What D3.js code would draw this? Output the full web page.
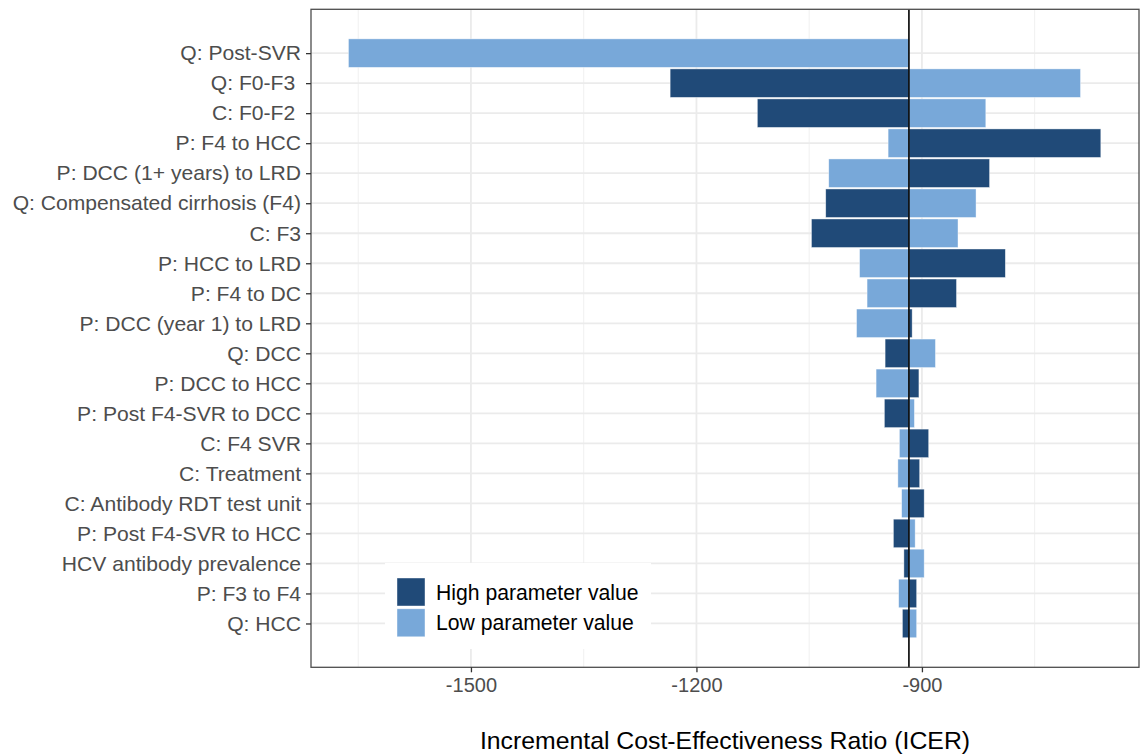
<!DOCTYPE html>
<html>
<head>
<meta charset="utf-8">
<script src="https://cdn.jsdelivr.net/npm/d3@7"></script>
<style>
  body { margin: 0; background: #fff; }
  svg text { font-family: "Liberation Sans", Arial, Helvetica, sans-serif; white-space: pre; }
</style>
</head>
<body>
<div id="chart"></div>
<script>
// parameters, top to bottom
const params = [
  "Q: Post-SVR", "Q: F0-F3 ", "C: F0-F2 ", "P: F4 to HCC",
  "P: DCC (1+ years) to LRD", "Q: Compensated cirrhosis (F4)", "C: F3",
  "P: HCC to LRD", "P: F4 to DC", "P: DCC (year 1) to LRD", "Q: DCC",
  "P: DCC to HCC", "P: Post F4-SVR to DCC", "C: F4 SVR", "C: Treatment",
  "C: Antibody RDT test unit", "P: Post F4-SVR to HCC",
  "HCV antibody prevalence", "P: F3 to F4", "Q: HCC"
];

// ICER at the low and high parameter value
const lowValues = [-1663, -689, -815, -945, -1024, -828, -852, -983, -973, -987,
  -882, -961, -910, -930, -932, -927, -909, -897, -931, -907];
const highValues = [-917, -1235, -1119, -662, -810, -1028, -1047, -789, -854, -913,
  -949, -904, -950, -891, -903, -897, -938, -924, -907, -926];

const baseIcer = -917.3;

const majorTicks = [-1500, -1200, -900];
const minorTicks = [-1650, -1350, -1050, -750];

const seriesNames = ["High parameter value", "Low parameter value"];
const seriesColors = ["#204A78", "#78A8D9"];

const width = 1146;
const height = 756;
const panel = { left: 311, right: 1139, top: 9.3, bottom: 667.3 };

const svg = d3.select("#chart")
  .append("svg")
  .attr("width", width)
  .attr("height", height);

const xScale = d3.scaleLinear()
  .domain([-1712.8, -611.2])
  .range([panel.left, panel.right]);

const yScale = d3.scalePoint()
  .domain(params)
  .range([panel.top, panel.bottom])
  .padding(1.46);

const step = yScale.step();
const barH = step * 0.95;

// grid
const grid = svg.append("g");
grid.selectAll(".minor")
  .data(minorTicks)
  .enter()
  .append("line")
  .attr("x1", (d) => xScale(d)).attr("x2", (d) => xScale(d))
  .attr("y1", panel.top).attr("y2", panel.bottom)
  .attr("stroke", "#f0f0f0").attr("stroke-width", 1);
grid.selectAll(".majorx")
  .data(majorTicks)
  .enter()
  .append("line")
  .attr("x1", (d) => xScale(d)).attr("x2", (d) => xScale(d))
  .attr("y1", panel.top).attr("y2", panel.bottom)
  .attr("stroke", "#ebebeb").attr("stroke-width", 1.8);
grid.selectAll(".majory")
  .data(params)
  .enter()
  .append("line")
  .attr("x1", panel.left).attr("x2", panel.right)
  .attr("y1", (d) => yScale(d)).attr("y2", (d) => yScale(d))
  .attr("stroke", "#ebebeb").attr("stroke-width", 1.8);

// bars
const rows = params.map((p, i) => ({ p, low: lowValues[i], high: highValues[i] }));
const bars = [];
rows.forEach((r) => {
  bars.push({ p: r.p, v: r.high, c: seriesColors[0] });
  bars.push({ p: r.p, v: r.low, c: seriesColors[1] });
});

svg.append("g")
  .selectAll(".bar")
  .data(bars)
  .enter()
  .append("rect")
  .attr("class", "bar")
  .attr("x", (d) => Math.min(xScale(d.v), xScale(baseIcer)))
  .attr("width", (d) => Math.abs(xScale(d.v) - xScale(baseIcer)))
  .attr("y", (d) => yScale(d.p) - barH / 2)
  .attr("height", barH)
  .attr("fill", (d) => d.c)
  .attr("stroke", "#ffffff")
  .attr("stroke-opacity", 0.6)
  .attr("stroke-width", 0.7);

// base case line
svg.append("line")
  .attr("x1", xScale(baseIcer)).attr("x2", xScale(baseIcer))
  .attr("y1", panel.top).attr("y2", panel.bottom)
  .attr("stroke", "#000").attr("stroke-width", 1.6);

// legend
const legend = svg.append("g").attr("transform", "translate(385,563)");
legend.append("rect")
  .attr("width", 266).attr("height", 86)
  .attr("fill", "#fff");
legend.selectAll(".key")
  .data(seriesNames)
  .enter()
  .append("rect")
  .attr("x", 12)
  .attr("y", (d, i) => 15 + i * 30.8)
  .attr("width", 28)
  .attr("height", 28)
  .attr("fill", (d, i) => seriesColors[i])
  .attr("stroke", "#ffffff")
  .attr("stroke-opacity", 0.6)
  .attr("stroke-width", 0.7);
legend.selectAll(".ltext")
  .data(seriesNames)
  .enter()
  .append("text")
  .attr("x", 51)
  .attr("y", (d, i) => 29 + i * 30.8)
  .attr("dy", "0.36em")
  .attr("font-size", 21.2)
  .attr("fill", "#000")
  .text((d) => d);

// panel border
svg.append("rect")
  .attr("x", panel.left).attr("y", panel.top)
  .attr("width", panel.right - panel.left)
  .attr("height", panel.bottom - panel.top)
  .attr("fill", "none")
  .attr("stroke", "#4d4d4d")
  .attr("stroke-width", 1.3);

// axes
const xAxis = svg.append("g")
  .attr("transform", `translate(0,${panel.bottom})`)
  .call(d3.axisBottom(xScale).tickValues(majorTicks).tickSize(5).tickPadding(6).tickFormat(d3.format("d")));
xAxis.select(".domain").remove();
xAxis.selectAll("line").attr("stroke", "#333").attr("stroke-width", 1.3);
xAxis.selectAll("text")
  .attr("font-size", 20)
  .attr("fill", "#4d4d4d")
  .attr("font-family", "Liberation Sans, Arial, sans-serif")
  .text((d) => String(d));

const yAxis = svg.append("g")
  .attr("transform", `translate(${panel.left},0)`)
  .call(d3.axisLeft(yScale).tickSize(5).tickPadding(5));
yAxis.select(".domain").remove();
yAxis.selectAll("line").attr("stroke", "#333").attr("stroke-width", 1.3);
yAxis.selectAll("text")
  .attr("font-size", 21.1)
  .attr("fill", "#4d4d4d")
  .attr("font-family", "Liberation Sans, Arial, sans-serif");

// axis title
svg.append("text")
  .attr("x", (panel.left + panel.right) / 2)
  .attr("y", 749)
  .attr("text-anchor", "middle")
  .attr("font-size", 24.8)
  .attr("fill", "#000")
  .text("Incremental Cost-Effectiveness Ratio (ICER)");
</script>
</body>
</html>
